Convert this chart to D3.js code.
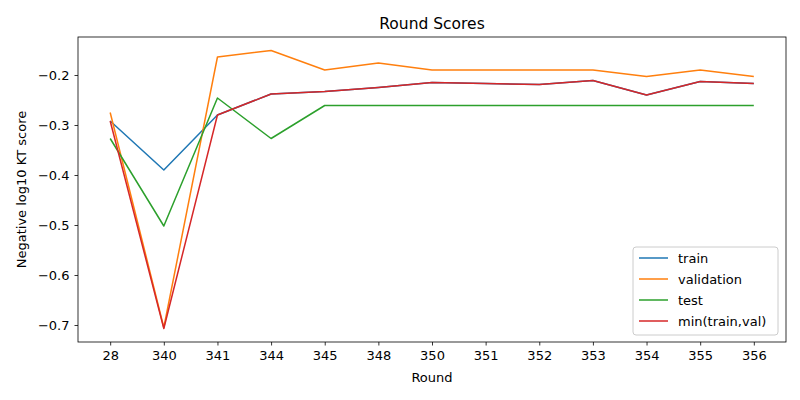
<!DOCTYPE html>
<html>
<head>
<meta charset="utf-8">
<script src="https://cdn.jsdelivr.net/npm/d3@7"></script>
<style>
  body { margin: 0; background: #fff; }
  text { font-family: "DejaVu Sans", sans-serif; }
</style>
</head>
<body>
<div id="vis"></div>
<script>
const FRAME_WIDTH = 800;
const FRAME_HEIGHT = 400;
const MARGINS = {left: 78, right: 14, top: 37, bottom: 58};

const VIS_WIDTH = FRAME_WIDTH - MARGINS.left - MARGINS.right;
const VIS_HEIGHT = FRAME_HEIGHT - MARGINS.top - MARGINS.bottom;

// data
const rounds = ['28', '340', '341', '344', '345', '348', '350', '351', '352', '353', '354', '355', '356'];
const train = [-0.292, -0.390, -0.280, -0.238, -0.233, -0.225, -0.215, -0.217, -0.219, -0.211, -0.240, -0.213, -0.217];
const validation = [-0.275, -0.705, -0.164, -0.151, -0.190, -0.176, -0.190, -0.190, -0.190, -0.190, -0.203, -0.190, -0.203];
const test = [-0.327, -0.502, -0.246, -0.327, -0.261, -0.261, -0.261, -0.261, -0.261, -0.261, -0.261, -0.261, -0.261];
const minTrainVal = [-0.292, -0.707, -0.280, -0.238, -0.233, -0.225, -0.215, -0.217, -0.219, -0.211, -0.240, -0.213, -0.217];
const yTicks = [-0.2, -0.3, -0.4, -0.5, -0.6, -0.7];

const series = [
  {name: 'train', values: train, color: '#1f77b4'},
  {name: 'validation', values: validation, color: '#ff7f0e'},
  {name: 'test', values: test, color: '#2ca02c'},
  {name: 'min(train,val)', values: minTrainVal, color: '#d62728'}
];

const svg = d3.select('#vis')
  .append('svg')
    .attr('width', FRAME_WIDTH)
    .attr('height', FRAME_HEIGHT);

const g = svg.append('g')
  .attr('transform', 'translate(' + MARGINS.left + ',' + MARGINS.top + ')');

// matplotlib style: 5% padding on each side of the data range
const step = VIS_WIDTH / (rounds.length - 1 + 1.2);
const X_SCALE = d3.scalePoint()
  .domain(rounds)
  .range([0.6 * step, VIS_WIDTH - 0.6 * step]);

const Y_SCALE = d3.scaleLinear()
  .domain([-0.734, -0.124])
  .range([VIS_HEIGHT, 0]);

// lines
const line = d3.line()
  .x((d, i) => X_SCALE(rounds[i]))
  .y(d => Y_SCALE(d));

g.selectAll('.series')
  .data(series)
  .enter()
  .append('path')
    .attr('class', 'series')
    .attr('fill', 'none')
    .attr('stroke', d => d.color)
    .attr('stroke-width', 1.5)
    .attr('stroke-linejoin', 'round')
    .attr('d', d => line(d.values));

// axes
const xAxis = g.append('g')
  .attr('transform', 'translate(0,' + VIS_HEIGHT + ')')
  .call(d3.axisBottom(X_SCALE).tickSize(3.5).tickPadding(5));

const yAxis = g.append('g')
  .call(d3.axisLeft(Y_SCALE).tickValues(yTicks).tickSize(3.5).tickPadding(5)
    .tickFormat(d => d3.format('.1f')(d).replace('-', '\u2212')));

[xAxis, yAxis].forEach(a => {
  a.select('.domain').remove();
  a.selectAll('text').attr('font-size', '13px').attr('fill', '#000')
    .style('font-family', '"DejaVu Sans", sans-serif');
  a.selectAll('line').attr('stroke', '#000').attr('stroke-width', 0.8);
});

// frame
g.append('rect')
  .attr('width', VIS_WIDTH)
  .attr('height', VIS_HEIGHT)
  .attr('fill', 'none')
  .attr('stroke', '#000')
  .attr('stroke-width', 0.8);

// title and labels
svg.append('text')
  .attr('x', MARGINS.left + VIS_WIDTH / 2)
  .attr('y', 29)
  .attr('text-anchor', 'middle')
  .attr('font-size', '15.5px')
  .text('Round Scores');

svg.append('text')
  .attr('x', MARGINS.left + VIS_WIDTH / 2)
  .attr('y', 382)
  .attr('text-anchor', 'middle')
  .attr('font-size', '13px')
  .text('Round');

svg.append('text')
  .attr('transform', 'translate(26,' + (MARGINS.top + VIS_HEIGHT / 2) + ') rotate(-90)')
  .attr('text-anchor', 'middle')
  .attr('font-size', '13px')
  .text('Negative log10 KT score');

// legend
const legend = svg.append('g')
  .attr('transform', 'translate(633,247)');

legend.append('rect')
  .attr('width', 145)
  .attr('height', 88)
  .attr('rx', 3)
  .attr('fill', '#fff')
  .attr('fill-opacity', 0.8)
  .attr('stroke', '#ccc')
  .attr('stroke-width', 1);

const items = legend.selectAll('.item')
  .data(series)
  .enter()
  .append('g')
    .attr('class', 'item')
    .attr('transform', (d, i) => 'translate(0,' + (11 + i * 21) + ')');

items.append('line')
  .attr('x1', 6).attr('x2', 35)
  .attr('stroke', d => d.color)
  .attr('stroke-width', 1.5);

items.append('text')
  .attr('x', 45)
  .attr('y', 4.5)
  .attr('font-size', '13px')
  .text(d => d.name);
</script>
</body>
</html>
